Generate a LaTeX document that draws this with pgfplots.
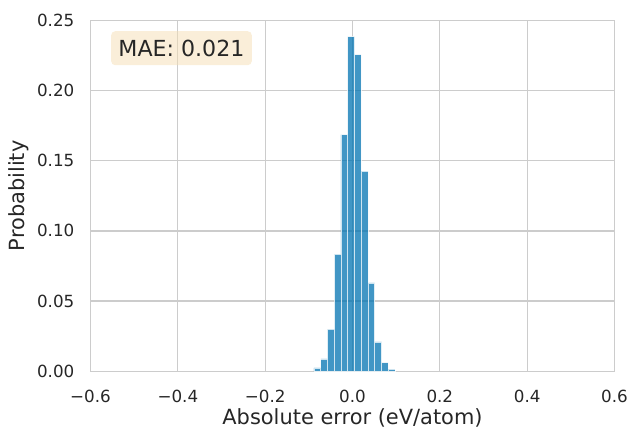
\documentclass[border=0pt]{standalone}
\usepackage{fontspec}
\setmainfont{DejaVu Sans}
\usepackage{pgfplots}
\pgfplotsset{compat=1.18}
\definecolor{gridc}{HTML}{CCCCCC}
\definecolor{txt}{HTML}{262626}
\definecolor{barc}{HTML}{0173B2}
\definecolor{wheat}{HTML}{F5DEB3}
\begin{document}
\begin{tikzpicture}
\useasboundingbox (-90.5bp,-58.7bp) rectangle (537.5bp,371.3bp);
\begin{axis}[
  at={(0,0)}, anchor=south west,
  scale only axis, width=524bp, height=351bp,
  xmin=-0.6, xmax=0.6, ymin=0, ymax=0.25,
  xtick={-0.6,-0.4,-0.2,0,0.2,0.4,0.6},
  xticklabels={−0.6,−0.4,−0.2,0.0,0.2,0.4,0.6},
  ytick={0,0.05,0.1,0.15,0.2,0.25},
  yticklabels={0.00,0.05,0.10,0.15,0.20,0.25},
  grid=major,
  major grid style={draw=gridc, line width=1.3bp},
  axis line style={draw=gridc, line width=1.5bp},
  major tick length=0pt,
  tick style={draw=none},
  ticklabel style={font=\fontsize{16.8}{20}\selectfont, text=txt},
  xticklabel style={anchor=north, inner sep=0pt, yshift=-19bp},
  yticklabel style={anchor=east, inner sep=0pt, xshift=-16bp},
  xlabel={Absolute error (eV/atom)},
  ylabel={Probability},
  label style={font=\fontsize{21}{25}\selectfont, text=txt},
  xlabel style={at={(axis description cs:0.5,-0.151)}, anchor=base, inner sep=0pt},
  ylabel style={at={(axis description cs:-0.125,0.5)}, anchor=base, inner sep=0pt},
]
\addplot[ybar interval, fill=barc, fill opacity=0.75, draw=white, draw opacity=0.75, line width=0.7bp]
coordinates {
(-0.0882,0.0024)
(-0.0727,0.0088)
(-0.0573,0.0301)
(-0.0418,0.0835)
(-0.0264,0.1685)
(-0.0109,0.2383)
(0.0046,0.2255)
(0.0200,0.1425)
(0.0355,0.0629)
(0.0509,0.0209)
(0.0664,0.0061)
(0.0818,0.0016)
(0.0973,0.0016)
};
\node[anchor=north west, fill=wheat, fill opacity=0.5, text opacity=1, text=txt,
      rounded corners=4bp, inner xsep=7.3bp, inner ysep=0pt, minimum height=34bp,
      font=\fontsize{22.2}{26}\selectfont]
  at (axis description cs:0.0391,0.9695) {MAE: 0.021};
\end{axis}
\end{tikzpicture}
\end{document}
